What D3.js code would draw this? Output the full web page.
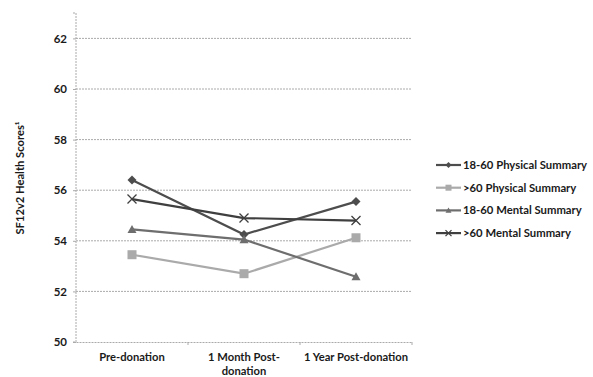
<!DOCTYPE html>
<html><head><meta charset="utf-8">
<script src="https://cdn.jsdelivr.net/npm/d3@7"></script>
<style>body{margin:0;background:#fff}svg{display:block}text{font-family:Lato,"Open Sans",sans-serif;font-weight:bold;fill:#1a1a1a}</style>
</head><body><svg id="c" width="593" height="377"></svg>
<script>
const categories = ["Pre-donation", "1 Month Post-donation", "1 Year Post-donation"];
const categoryLines = [["Pre-donation"], ["1 Month Post-", "donation"], ["1 Year Post-donation"]];
const seriesNames = ["18-60 Physical Summary", ">60 Physical Summary", "18-60 Mental Summary", ">60 Mental Summary"];
const phys1860 = [56.4, 54.25, 55.55];
const phys60 = [53.45, 52.7, 54.12];
const ment1860 = [54.45, 54.05, 52.58];
const ment60 = [55.65, 54.9, 54.8];
const yTicks = [50, 52, 54, 56, 58, 60, 62];
const seriesValues = [phys1860, phys60, ment1860, ment60];
const colors = ["#4d4d4d", "#aaaaaa", "#6e6e6e", "#3f3f3f"];
const markers = ["diamond", "square", "triangle", "x"];

const svg = d3.select("#c");
const L = 76, R = 412, T = 13, B = 342;
const x = d3.scaleBand().domain(categories).range([L, R]);
const y = d3.scaleLinear().domain([50, 63]).range([B, B - 13 * 25.3]);

// gridlines
svg.append("g").selectAll("line").data(yTicks.filter(t => t > 50)).join("line")
  .attr("x1", L).attr("x2", R).attr("y1", d => y(d)).attr("y2", d => y(d))
  .attr("stroke", "#aaa").attr("stroke-width", 1).attr("stroke-dasharray", "2,1");

// y axis
const ya = svg.append("g").attr("transform", `translate(${L},0)`)
  .call(d3.axisLeft(y).tickValues(yTicks).tickSize(3).tickPadding(6));
ya.select(".domain").attr("stroke", "#aaa").attr("stroke-dasharray", "2,1").attr("d", `M-3,${T}H0V${B}H-3`);
ya.selectAll(".tick line").attr("stroke", "#aaa");
ya.selectAll(".tick text").style("font-size", "11.5px").attr("fill", "#1a1a1a");

// x axis
const xa = svg.append("g").attr("transform", `translate(0,${B})`)
  .call(d3.axisBottom(x).tickSize(0).tickFormat(""));
xa.select(".domain").attr("stroke", "#aaa").attr("stroke-dasharray", "2,1");
xa.selectAll(".tick").remove();
svg.append("g").selectAll("line").data(categories).join("line")
  .attr("x1", d => x(d) + x.bandwidth()).attr("x2", d => x(d) + x.bandwidth())
  .attr("y1", B).attr("y2", B + 3).attr("stroke", "#aaa");
categories.forEach((c, i) => {
  const t = svg.append("text").attr("x", x(c) + x.bandwidth() / 2).attr("y", 361)
    .attr("text-anchor", "middle").style("font-size", "11.2px");
  categoryLines[i].forEach((ln, j) => t.append("tspan").attr("x", x(c) + x.bandwidth() / 2).attr("dy", j ? 14 : 0).text(ln));
});

// y title
svg.append("text").attr("transform", "translate(24,178) rotate(-90)").attr("text-anchor", "middle")
  .style("font-size", "11.2px").text("SF12v2 Health Scores¹");

function drawMarker(g, type, cx, cy, color, s) {
  if (type === "diamond") g.append("path").attr("d", `M${cx},${cy - s}L${cx + s},${cy}L${cx},${cy + s}L${cx - s},${cy}Z`).attr("fill", color);
  else if (type === "square") g.append("rect").attr("x", cx - s).attr("y", cy - s).attr("width", 2 * s).attr("height", 2 * s).attr("fill", color);
  else if (type === "triangle") g.append("path").attr("d", `M${cx},${cy - s}L${cx + s},${cy + s * 0.8}L${cx - s},${cy + s * 0.8}Z`).attr("fill", color);
  else g.append("path").attr("d", `M${cx - s},${cy - s}L${cx + s},${cy + s}M${cx - s},${cy + s}L${cx + s},${cy - s}`).attr("stroke", color).attr("stroke-width", 1.3).attr("fill", "none");
}

const line = d3.line().x((d, i) => x(categories[i]) + x.bandwidth() / 2).y(d => y(d));
seriesValues.forEach((vals, k) => {
  const g = svg.append("g");
  g.append("path").attr("d", line(vals)).attr("fill", "none").attr("stroke", colors[k]).attr("stroke-width", 2.2);
  vals.forEach((v, i) => drawMarker(g, markers[k], x(categories[i]) + x.bandwidth() / 2, y(v), colors[k], 4.5));
});

// legend
const lg = svg.append("g");
seriesNames.forEach((n, k) => {
  const yy = 165 + k * 22.7;
  lg.append("line").attr("x1", 436).attr("x2", 461).attr("y1", yy).attr("y2", yy).attr("stroke", colors[k]).attr("stroke-width", 2.2);
  drawMarker(lg, markers[k], 448.5, yy, colors[k], 3);
  lg.append("text").attr("x", 463).attr("y", yy + 4).style("font-size", "11.3px").text(n);
});
</script></body></html>
